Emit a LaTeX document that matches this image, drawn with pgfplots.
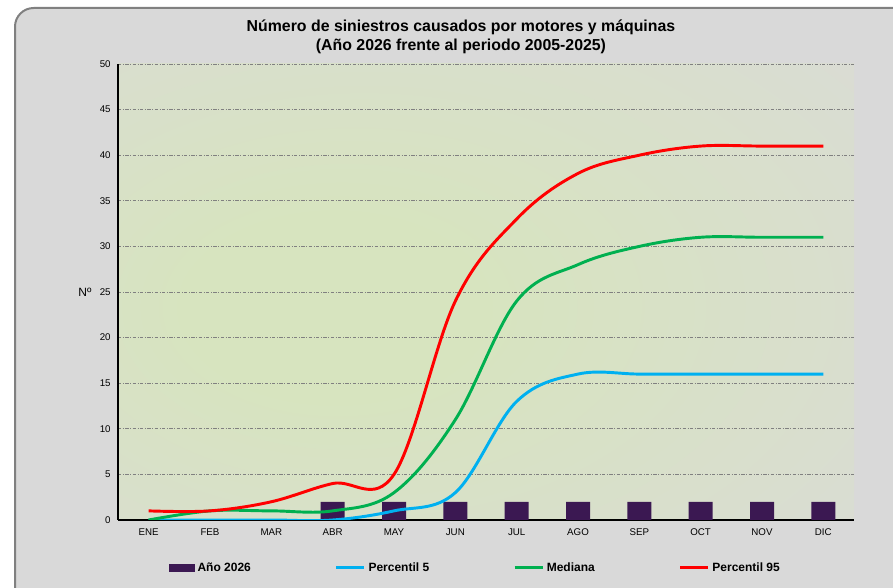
\documentclass[border=0pt]{standalone}
\usepackage{fontspec}
\setmainfont{Liberation Sans}
\usepackage{pgfplots}
\pgfplotsset{compat=1.18}

\definecolor{bgc}{RGB}{215,228,191}
\definecolor{bge}{RGB}{218,219,214}
\definecolor{chartbg}{RGB}{217,217,217}
\definecolor{framec}{RGB}{128,128,128}
\definecolor{barc}{RGB}{59,24,82}
\definecolor{p5c}{RGB}{0,176,240}
\definecolor{medc}{RGB}{0,176,80}
\definecolor{p95c}{RGB}{255,0,0}

% plot area gradient: green-yellow middle (a bit left of centre), grey rim
\pgfdeclareradialshading{plotbg}{\pgfpoint{-12bp}{-2bp}}{color(0bp)=(bgc); color(10bp)=(bgc); color(44bp)=(bge); color(75bp)=(bge)}

\begin{document}
\begin{tikzpicture}[x=0.75pt,y=0.75pt]
\useasboundingbox (0,0) rectangle (893,588);
\clip (0,0) rectangle (893,588);
\fill[white] (0,0) rectangle (893,588);
\draw[framec, line width=1.5pt, fill=chartbg, rounded corners=14pt]
  (15,580) -- (930,580) -- (930,-30) -- (15,-30) -- cycle;

% title
\node[align=center, font=\bfseries\fontsize{11.9}{14.25}\selectfont] at (461,551.5)
  {Número de siniestros causados por motores y máquinas\\(Año 2026 frente al periodo 2005-2025)};

\begin{axis}[
  at={(88.5pt,51pt)}, anchor=south west,
  scale only axis, width=552pt, height=342pt,
  xmin=-0.5, xmax=11.5, ymin=0, ymax=50,
  xtick={0,...,11},
  xticklabels={ENE,FEB,MAR,ABR,MAY,JUN,JUL,AGO,SEP,OCT,NOV,DIC},
  ytick={0,5,...,50},
  axis x line*=bottom, axis y line*=left,
  axis line style={black, line width=0.8pt, -},
  major tick length=0pt,
  ymajorgrids,
  major grid style={gray, line width=0.5pt, dash pattern=on 2.5pt off 1.2pt on 0.6pt off 1.2pt},
  tick label style={font=\fontsize{7.3}{8}\selectfont},
  xticklabel style={yshift=-3pt},
  yticklabel style={xshift=-2pt},
  /pgf/number format/assume math mode=true,
  ylabel={Nº},
  ylabel style={rotate=-90, at={(axis description cs:-0.045,0.5)}, anchor=center,
    font=\fontsize{9}{10}\selectfont},
  axis background/.style={shading=plotbg},
  legend columns=4,
  legend style={draw=none, fill=none, at={(axis description cs:0.486,-0.105)}, anchor=center,
    font=\bfseries\fontsize{9}{10}\selectfont,
    /tikz/every even column/.append style={column sep=61pt}},
  legend image code/.code={\draw[#1] plot coordinates {(0pt,0pt) (21pt,0pt)};},
]
\addplot[ybar, bar width=18pt, fill=barc, draw=none,
  legend image code/.code={\fill[barc] (0pt,-3pt) rectangle (19.5pt,3pt);}]
  coordinates {(3,2)(4,2)(5,2)(6,2)(7,2)(8,2)(9,2)(10,2)(11,2)};
\addlegendentry{Año 2026}
\addplot[p5c, line width=2.2pt, smooth, tension=0.6] coordinates
  {(0,0)(1,0)(2,0)(3,0)(4,1)(5,3)(6,13)(7,16)(8,16)(9,16)(10,16)(11,16)};
\addlegendentry{Percentil 5}
\addplot[medc, line width=2.2pt, smooth, tension=0.6] coordinates
  {(0,0)(1,1)(2,1)(3,1)(4,3)(5,11)(6,24)(7,28)(8,30)(9,31)(10,31)(11,31)};
\addlegendentry{Mediana}
\addplot[p95c, line width=2.2pt, smooth, tension=0.6] coordinates
  {(0,1)(1,1)(2,2)(3,4)(4,5)(5,24)(6,33)(7,38)(8,40)(9,41)(10,41)(11,41)};
\addlegendentry{Percentil 95}
\end{axis}
\end{tikzpicture}
\end{document}
